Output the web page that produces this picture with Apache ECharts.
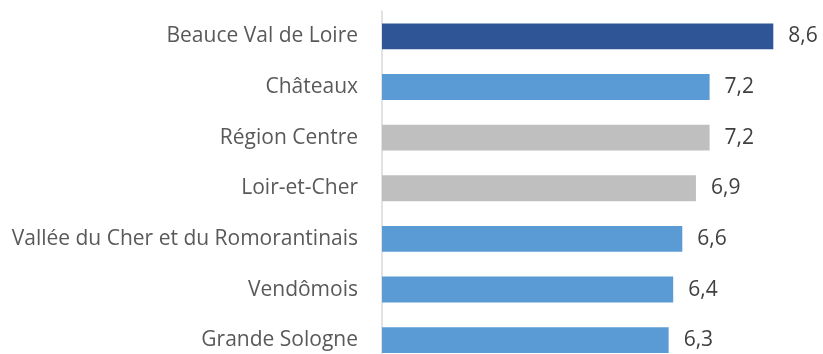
<!DOCTYPE html>
<html>
<head>
<meta charset="utf-8">
<script src="https://cdn.jsdelivr.net/npm/echarts@6/dist/echarts.min.js"></script>
<style>
  html, body { margin: 0; padding: 0; background: #fff; }
  #chart { width: 823px; height: 354px; }
</style>
</head>
<body>
<div id="chart"></div>
<script>
// Territories, top to bottom
const territories = [
  'Beauce Val de Loire',
  'Châteaux',
  'Région Centre',
  'Loir-et-Cher',
  'Vallée du Cher et du Romorantinais',
  'Vendômois',
  'Grande Sologne'
];
const values = [8.6, 7.2, 7.2, 6.9, 6.6, 6.4, 6.3];
// Bar colour group: highlight, territory, reference
const groups = ['highlight', 'territory', 'reference', 'reference', 'territory', 'territory', 'territory'];

const palette = { highlight: '#2F5597', territory: '#5B9BD5', reference: '#BFBFBF' };
const fontFamily = '"Open Sans", sans-serif';

const chart = echarts.init(document.getElementById('chart'), null, { renderer: 'canvas' });
chart.setOption({
  animation: false,
  grid: {
    left: 382, right: 31.5, top: 11, bottom: -11.5,
    containLabel: false,
    outerBoundsMode: 'none'
  },
  xAxis: {
    type: 'value', min: 0, max: 9,
    show: false
  },
  yAxis: {
    type: 'category',
    data: territories,
    inverse: true,
    axisLine: { show: true, lineStyle: { color: '#D9D9D9', width: 1.5 } },
    axisTick: { show: false },
    axisLabel: { color: '#595959', fontSize: 21, fontFamily: fontFamily, margin: 24 }
  },
  series: [{
    type: 'bar',
    barCategoryGap: '49%',
    data: values.map((v, i) => ({ value: v, itemStyle: { color: palette[groups[i]] } })),
    label: {
      show: true,
      position: 'right',
      distance: 15,
      color: '#404040',
      fontSize: 21,
      fontFamily: fontFamily,
      formatter: p => p.value.toFixed(1).replace('.', ',')
    }
  }]
});
</script>
</body>
</html>
